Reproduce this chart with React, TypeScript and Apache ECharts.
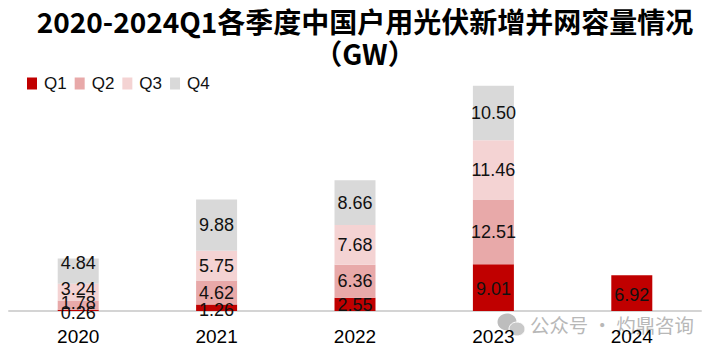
import React, { useEffect, useRef } from "react";
import * as echarts from "echarts";

const years = ["2020", "2021", "2022", "2023", "2024"];
const q1 = [0.26, 1.26, 2.55, 9.01, 6.92];
const q2 = [1.78, 4.62, 6.36, 12.51, null];
const q3 = [3.24, 5.75, 7.68, 11.46, null];
const q4 = [4.84, 9.88, 8.66, 10.5, null];
const seriesNames = ["Q1", "Q2", "Q3", "Q4"];
const seriesData = [q1, q2, q3, q4];
const colors = ["#c00000", "#e8a9a9", "#f4d3d3", "#d9d9d9"];
const titleLines = ["2020-2024Q1各季度中国户用光伏新增并网容量情况", "（GW）"];
const watermark = "公众号 · 灼鼎咨询";
// vertical nudges of the data labels, per series then per category
const labelNudge = [
  [3, 2, 1, 1, 2],
  [-2, 0, 0, 0, 0],
  [-3, 0, 0, 0, 0],
  [-8, 0, 0, 0, 0],
];

export default function App() {
  const ref = useRef<HTMLDivElement>(null);
  useEffect(() => {
    const chart = echarts.init(ref.current!, null, { renderer: "svg" });
    chart.setOption({
      animation: false,
      grid: { left: 9, width: 692, top: 52, height: 259 },
      legend: {
        left: 22,
        top: 70,
        itemWidth: 10,
        itemHeight: 12,
        itemGap: 8,
        icon: "rect",
        data: seriesNames,
        textStyle: { fontFamily: "Liberation Sans", fontSize: 17, color: "#111", padding: [0, 0, 0, 2] },
      },
      xAxis: {
        type: "category",
        data: years,
        axisLine: { lineStyle: { color: "#d4d4d4", width: 2 } },
        axisTick: { show: false },
        axisLabel: { fontFamily: "Liberation Sans", fontSize: 19, color: "#000", margin: 16 },
      },
      yAxis: { type: "value", min: 0, max: 50, show: false, splitLine: { show: false } },
      series: seriesNames.map((name, i) => ({
        name,
        type: "bar",
        stack: "total",
        barWidth: 41,
        data: seriesData[i],
        itemStyle: { color: colors[i] },
        label: {
          show: true,
          position: "inside",
          fontFamily: "Liberation Sans",
          fontSize: 18,
          color: "#111",
          formatter: (p: any) => (p.value == null ? "" : p.value.toFixed(2)),
        },
        labelLayout: (p: any) => ({ dy: labelNudge[i][p.dataIndex], hideOverlap: false }),
      })),
      graphic: [
        {
          type: "text",
          x: 365,
          y: 21,
          style: {
            text: titleLines[0],
            font: "bold 28px 'Noto Sans CJK SC'",
            fill: "#000",
            textAlign: "center",
            textVerticalAlign: "middle",
          },
        },
        {
          type: "text",
          x: 365,
          y: 53,
          style: {
            text: titleLines[1],
            font: "bold 28px 'Noto Sans CJK SC'",
            fill: "#000",
            textAlign: "center",
            textVerticalAlign: "middle",
          },
        },
        { type: "ellipse", shape: { cx: 507, cy: 322, rx: 9.5, ry: 8.5 }, style: { fill: "#bdbdbd" } },
        { type: "ellipse", shape: { cx: 517, cy: 329, rx: 8, ry: 7 }, style: { fill: "#c8c8c8", stroke: "#fff", lineWidth: 1 } },
        {
          type: "text",
          x: 530,
          y: 324,
          style: {
            text: watermark,
            font: "19.4px 'Noto Sans CJK SC'",
            fill: "#b8b8b8",
            textAlign: "left",
            textVerticalAlign: "middle",
          },
        },
      ],
    });
    return () => chart.dispose();
  }, []);
  return <div ref={ref} style={{ position: "absolute", left: 0, top: 0, width: 717, height: 355 }} />;
}
